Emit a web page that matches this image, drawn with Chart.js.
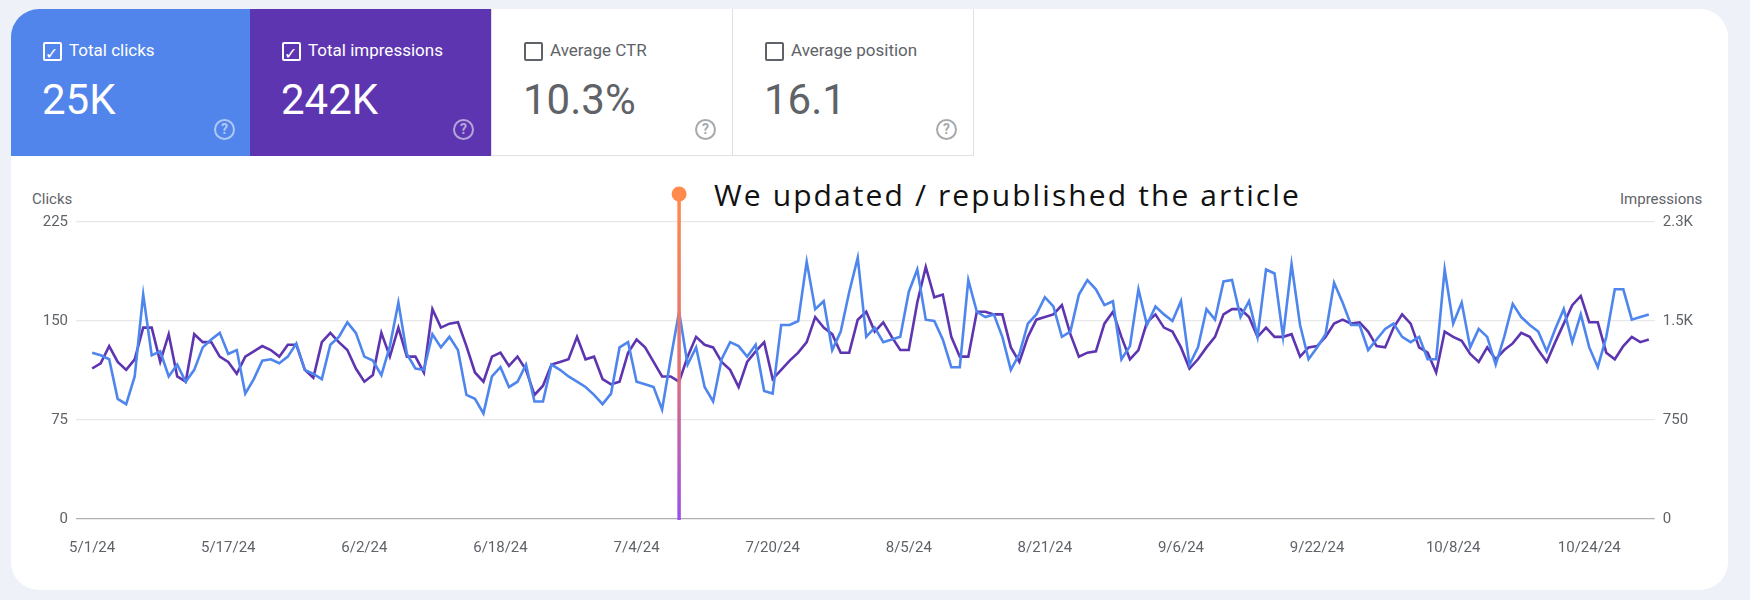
<!DOCTYPE html>
<html><head><meta charset="utf-8">
<script src="https://cdn.jsdelivr.net/npm/chart.js@4.4.1/dist/chart.umd.min.js"></script>
<style>
body{margin:0;width:1750px;height:600px;background:#eef2f8;font-family:Roboto,sans-serif;overflow:hidden;position:relative}
#card{position:absolute;left:11px;top:9px;width:1717px;height:581px;background:#fff;border-radius:28px;overflow:hidden}
.tile{position:absolute;top:0;height:147px;box-sizing:border-box}
.lab{position:absolute;left:58px;top:31px;font-size:17px}
.cb{position:absolute;left:32px;top:33px;width:15px;height:15px;border:2px solid currentColor;border-radius:2px}
.val{position:absolute;left:31px;top:66px;font-size:42px}
.help{position:absolute;left:203px;top:110px;width:17px;height:17px;border:2px solid currentColor;border-radius:50%;font-size:14px;text-align:center;line-height:17px;font-weight:bold;opacity:.55}
#c{position:absolute;left:0;top:151px}
.ax{position:absolute;font-size:15px;color:#5f6368}
#note{position:absolute;left:703px;top:165px;font-family:"Open Sans",sans-serif;font-size:30px;color:#111;letter-spacing:2.1px}
</style></head><body>
<div id="card">
 <div class="tile" style="left:0;width:239px;background:#5185ec;color:#fff"><div class="cb">✓</div><div class="lab">Total clicks</div><div class="val">25K</div><div class="help">?</div></div>
 <div class="tile" style="left:239px;width:241px;background:#5e35b1;color:#fff"><div class="cb">✓</div><div class="lab">Total impressions</div><div class="val">242K</div><div class="help">?</div></div>
 <div class="tile" style="left:480px;width:242px;border:1px solid #e0e0e0;border-top:none;color:#5f6368"><div class="cb" style="border-color:#5f6368"></div><div class="lab">Average CTR</div><div class="val">10.3%</div><div class="help">?</div></div>
 <div class="tile" style="left:721px;width:242px;border:1px solid #e0e0e0;border-top:none;color:#5f6368"><div class="cb" style="border-color:#5f6368"></div><div class="lab">Average position</div><div class="val">16.1</div><div class="help">?</div></div>
 <div class="ax" style="left:21px;top:181px">Clicks</div>
 <div class="ax" style="left:1609px;top:181px">Impressions</div>
 <div id="note">We updated / republished the article</div>
 <canvas id="c" width="1717" height="430"></canvas>
</div>
<script>
const tickIndex = [0,16,32,48,64,80,96,112,128,144,160,176];
const tickLabels = ['5/1/24','5/17/24','6/2/24','6/18/24','7/4/24','7/20/24','8/5/24','8/21/24','9/6/24','9/22/24','10/8/24','10/24/24'];
const leftTicks = [0,75,150,225];
const rightTicks = [0,750,1500,2250];
const rightTickLabels = ['0','750','1.5K','2.3K'];
const eventIndex = 69;
const clicks = [126,124,121,91,87,108,170,124,127,108,117,104,113,130,136,141,125,128,95,106,120,121,118,123,133,113,110,106,132,138,149,141,123,120,109,
131,164,125,114,113,140,130,138,128,94,91,80,108,115,100,104,117,89,89,117,113,108,104,100,94,87,95,130,134,104,102,100,83,121,157,117,130,100,89,
121,134,131,123,132,97,95,147,147,150,195,159,165,128,142,172,198,138,145,134,136,138,172,189,151,150,136,115,115,181,157,153,155,138,113,125,148,155,168,161,138,
142,170,181,174,162,165,121,131,174,147,161,155,150,165,117,130,159,151,180,181,153,165,138,189,186,138,193,147,121,130,140,179,164,147,147,128,136,144,148,138,134,
138,121,121,189,148,164,130,144,138,117,138,163,153,147,142,127,144,159,134,155,130,115,138,174,174,151,153,155];
const impressions = [1140,1180,1310,1190,1130,1210,1450,1450,1190,1400,1080,1040,1400,1340,1340,1230,1190,1100,1230,1270,1310,
1280,1230,1320,1320,1130,1070,1340,1410,1340,1280,1140,1040,1090,1410,1230,1450,1230,1230,1110,1590,
1450,1480,1490,1310,1110,1040,1230,1260,1160,1230,1130,940,1010,1170,1190,1210,1380,1210,1230,1060,
1020,1040,1260,1360,1300,1190,1080,1080,1040,1230,1380,1320,1300,1190,1130,1000,1190,1270,1340,
1060,1130,1200,1260,1340,1530,1450,1400,1260,1260,1510,1570,1420,1490,1380,1280,1280,1640,1910,1680,1700,
1380,1230,1230,1570,1570,1550,1550,1300,1190,1380,1510,1530,1550,1620,1400,1230,1260,1270,1480,1570,
1380,1210,1280,1490,1550,1450,1420,1300,1140,1210,1300,1380,1550,1590,1590,1530,1380,1450,1380,1380,1400,
1230,1300,1310,1380,1480,1510,1480,1490,1420,1310,1300,1450,1550,1480,1300,1260,1110,1420,1380,1350,
1250,1190,1300,1210,1280,1330,1410,1380,1280,1190,1340,1480,1620,1690,1490,1490,1260,1210,1310,1380,1340,1360];

const pts = a => a.map((v,i)=>({x:i,y:v}));
const eventPlugin = {
  id:'event',
  afterDatasetsDraw(chart){
    const {ctx, scales:{x}, chartArea} = chart;
    const px = x.getPixelForValue(eventIndex);
    const top = 34, bottom = chartArea.bottom + 1;
    const g = ctx.createLinearGradient(0, top, 0, bottom);
    g.addColorStop(0,'#ff8a4c'); g.addColorStop(0.55,'#e0707a'); g.addColorStop(1,'#9a4ff0');
    ctx.save();
    ctx.strokeStyle = g; ctx.lineWidth = 3.5;
    ctx.beginPath(); ctx.moveTo(px, top); ctx.lineTo(px, bottom); ctx.stroke();
    ctx.fillStyle = '#ff8a4c';
    ctx.beginPath(); ctx.arc(px, top, 7.5, 0, Math.PI*2); ctx.fill();
    ctx.restore();
  }
};
new Chart(document.getElementById('c'), {
  type:'line',
  data:{datasets:[
    {label:'Clicks', data:pts(clicks), yAxisID:'y', borderColor:'#4e86ee', borderWidth:2.6, pointRadius:0, tension:0, order:1},
    {label:'Impressions', data:pts(impressions), yAxisID:'y1', borderColor:'#5e35b1', borderWidth:2.6, pointRadius:0, tension:0, order:2}
  ]},
  options:{
    responsive:false, animation:false,
    layout:{padding:{top:62,right:27,left:0,bottom:0}},
    plugins:{legend:{display:false}, tooltip:{enabled:false}},
    scales:{
      x:{type:'linear', min:-1.9, max:183.7,
        afterBuildTicks:s=>{s.ticks = tickIndex.map(v=>({value:v}));},
        afterFit:s=>{s.height=71;},
        grid:{display:false, drawTicks:false}, border:{display:false},
        ticks:{padding:20, maxRotation:0, autoSkip:false, color:'#5f6368', font:{family:'Roboto', size:15},
          callback:v=>tickLabels[tickIndex.indexOf(v)]}},
      y:{position:'left', min:0, max:225,
        afterBuildTicks:s=>{s.ticks = leftTicks.map(v=>({value:v}));},
        afterFit:s=>{s.width=65;},
        grid:{color:c=>c.tick.value===0?'#b0b0b0':'#e8e8e8', lineWidth:1.2, drawTicks:false}, border:{display:false},
        ticks:{padding:8, color:'#5f6368', font:{family:'Roboto', size:15}}},
      y1:{position:'right', min:0, max:2250,
        afterBuildTicks:s=>{s.ticks = rightTicks.map(v=>({value:v}));},
        grid:{display:false, drawTicks:false}, border:{display:false},
        ticks:{padding:8, color:'#5f6368', font:{family:'Roboto', size:15},
          callback:v=>rightTickLabels[rightTicks.indexOf(v)]}}
    }
  },
  plugins:[eventPlugin]
});
</script>
</body></html>
